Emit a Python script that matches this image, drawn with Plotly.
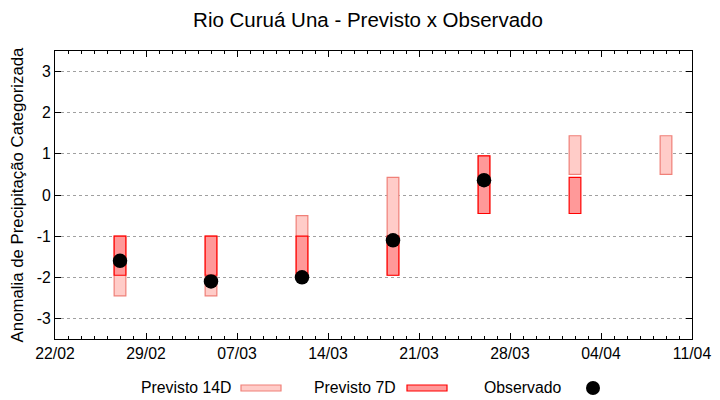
import plotly.graph_objects as go

# ---- data ----
dates = ['2024-02-27', '2024-03-05', '2024-03-12', '2024-03-19',
         '2024-03-26', '2024-04-02', '2024-04-09']
p14_low = [-2.45, -2.45, -2.0, -1.95, -0.45, 0.5, 0.5]
p14_high = [-1.0, -1.0, -0.5, 0.43, 0.95, 1.44, 1.44]
p7_low = [-1.95, -1.95, -2.0, -1.95, -0.45, -0.45, None]
p7_high = [-1.0, -1.0, -1.0, -1.0, 0.95, 0.43, None]
obs = [-1.6, -2.1, -2.0, -1.1, 0.36, None, None]

y_ticks = [-3, -2, -1, 0, 1, 2, 3]
y_tick_labels = ['-3', '-2', '-1', '0', '1', '2', '3']
x_tick_dates = ['2024-02-22', '2024-02-29', '2024-03-07', '2024-03-14',
                '2024-03-21', '2024-03-28', '2024-04-04', '2024-04-11']
x_tick_labels = ['22/02', '29/02', '07/03', '14/03', '21/03', '28/03', '04/04', '11/04']

title = 'Rio Curuá Una - Previsto x Observado'
y_title = 'Anomalia de Precipitação Categorizada'
legend_names = ['Previsto 14D', 'Previsto 7D', 'Observado']

# ---- styles ----
FONT = 'Liberation Sans'
DAY_MS = 86400000
BAR_W = 0.9 * DAY_MS
C14_FILL, C14_LINE = '#ffccc8', '#f08078'
C7_FILL, C7_LINE = '#ff9999', '#ff0000'


def heights(lo, hi):
    return [None if (a is None or b is None) else b - a for a, b in zip(lo, hi)]


fig = go.Figure()
fig.add_trace(go.Bar(x=dates, y=heights(p14_low, p14_high), base=p14_low,
                     width=BAR_W, name=legend_names[0],
                     marker=dict(color=C14_FILL, line=dict(color=C14_LINE, width=1.2)),
                     showlegend=False))
fig.add_trace(go.Bar(x=dates, y=heights(p7_low, p7_high), base=p7_low,
                     width=BAR_W, name=legend_names[1],
                     marker=dict(color=C7_FILL, line=dict(color=C7_LINE, width=1.2)),
                     showlegend=False))
fig.add_trace(go.Scatter(x=dates, y=obs, mode='markers', name=legend_names[2],
                         marker=dict(color='black', size=14.5, line=dict(width=0)),
                         showlegend=False))

# ---- manual gnuplot-style legend (text then sample) ----
L, R, T, B = 55, 28, 51, 61
PW, PH = 720 - L - R, 400 - T - B


def px(xp):
    return (xp - L) / PW


def py(yp):
    return (400 - B - yp) / PH


leg_y = 387
text_right = [233, 398, 563]
for name, xr in zip(legend_names, text_right):
    fig.add_annotation(x=px(xr), y=py(leg_y), xref='paper', yref='paper',
                       text=name, showarrow=False, xanchor='right', yanchor='middle',
                       font=dict(family=FONT, size=15.8, color='black'))
for (x0, x1), fc, lc in [((241, 281), C14_FILL, C14_LINE), ((407, 447), C7_FILL, C7_LINE)]:
    fig.add_shape(type='rect', xref='paper', yref='paper',
                  x0=px(x0), x1=px(x1), y0=py(385), y1=py(391),
                  fillcolor=fc, line=dict(color=lc, width=1.2))
fig.add_shape(type='circle', xref='paper', yref='paper', xsizemode='pixel', ysizemode='pixel',
              xanchor=px(593), yanchor=py(388), x0=-7, x1=7, y0=-7, y1=7,
              fillcolor='black', line=dict(color='black', width=0))

fig.update_layout(
    width=720, height=400,
    margin=dict(l=L, r=R, t=T, b=B, autoexpand=False),
    paper_bgcolor='white', plot_bgcolor='white',
    barmode='overlay',
    font=dict(family=FONT, size=15.8, color='black'),
    title=dict(text=title, x=(368) / 720, xref='container', xanchor='center',
               y=1 - 20 / 400, yref='container', yanchor='middle',
               font=dict(family=FONT, size=20.5, color='black')),
    xaxis=dict(type='date', range=['2024-02-22', '2024-04-11'],
               tickvals=x_tick_dates, ticktext=x_tick_labels,
               ticks='inside', ticklen=6, tickcolor='black', tickwidth=1,
               minor=dict(dtick=DAY_MS, tick0='2024-02-22', ticks='inside', ticklen=3,
                          tickcolor='black', showgrid=False),
               showline=True, linecolor='black', linewidth=1, mirror='ticks',
               showgrid=False, zeroline=False, automargin=False,
               tickfont=dict(family=FONT, size=15.8)),
    yaxis=dict(range=[-3.5, 3.5], tickvals=y_ticks, ticktext=y_tick_labels,
               ticks='inside', ticklen=6, tickcolor='black', tickwidth=1,
               showline=True, linecolor='black', linewidth=1, mirror='ticks',
               showgrid=True, gridcolor='#a0a0a0', griddash='dot', gridwidth=1,
               zeroline=False, automargin=False,
               title=dict(text=y_title, font=dict(family=FONT, size=16.8), standoff=8),
               tickfont=dict(family=FONT, size=15.8)),
)

fig.write_html('out.html', config={'displayModeBar': False},
               post_script="document.body.style.margin='0';document.body.style.padding='0';")
